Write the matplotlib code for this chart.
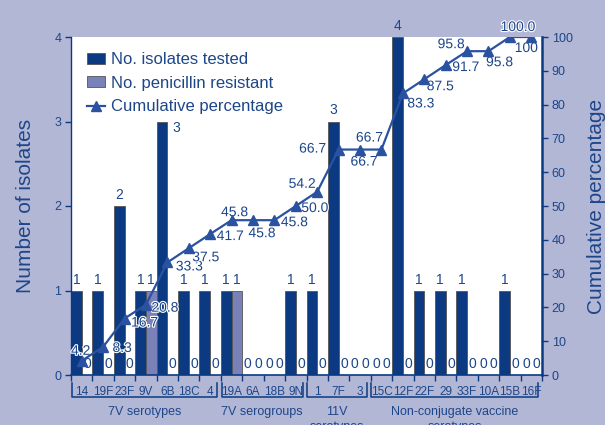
import matplotlib
matplotlib.use("Agg")
import matplotlib.pyplot as plt
from matplotlib.patches import Patch
from matplotlib.lines import Line2D
import matplotlib.transforms as mtransforms
import matplotlib.patheffects as pe

# ---------------- data ----------------
categories = ["14", "19F", "23F", "9V", "6B", "18C", "4", "19A", "6A", "18B", "9N",
              "1", "7F", "3", "15C", "12F", "22F", "29", "33F", "10A", "15B", "16F"]
tested = [1, 1, 2, 1, 3, 1, 1, 1, 0, 0, 1, 1, 3, 0, 0, 4, 1, 1, 1, 0, 1, 0]
resistant = [0, 0, 0, 1, 0, 0, 0, 1, 0, 0, 0, 0, 0, 0, 0, 0, 0, 0, 0, 0, 0, 0]
cumulative = [4.2, 8.3, 16.7, 20.8, 33.3, 37.5, 41.7, 45.8, 45.8, 45.8, 50.0,
              54.2, 66.7, 66.7, 66.7, 83.3, 87.5, 91.7, 95.8, 95.8, 100.0, 100]
cum_labels = ["4.2", "8.3", "16.7", "20.8", "33.3", "37.5", "41.7", "45.8", "45.8",
              "45.8", "50.0", "54.2", "66.7", "66.7", "66.7", "83.3", "87.5", "91.7",
              "95.8", "95.8", "100.0", "100"]
group_names = ["7V serotypes", "7V serogroups", "11V\nserotypes",
               "Non-conjugate vaccine\nserotypes"]
group_ranges = [(0, 6), (7, 10), (11, 13), (14, 21)]

# ---------------- styles ----------------
BG = "#b3b7d6"
NAVY = "#0b3a82"
LIGHT = "#7a81b9"
TXT = "#1d4689"
LINEC = "#2a52a0"

# label offsets (pixels) for cumulative labels
cum_off = [(-1, 10), (19, -1), (20, -4), (19, -3), (22, -4), (17, -9), (20, -2),
           (3, 8), (9, -13), (20, -2), (19, -2), (-15, 8), (-26, 1), (4, -12),
           (-12, 12), (18, -10), (16, -7), (20, -2), (-16, 7), (11, -11), (8, 10),
           (-5, -11)]

plt.rcParams['font.family'] = ['Liberation Sans', 'DejaVu Sans']

fig = plt.figure(figsize=(6.05, 4.25), dpi=100)
fig.patch.set_facecolor(BG)
ax = fig.add_axes([71 / 605, 50 / 425, 471 / 605, 338 / 425])
ax.set_facecolor("white")

n = len(categories)
x = list(range(n))
w = 0.5
ax.bar([i - 0.25 for i in x], tested, width=w, color=NAVY, edgecolor="#555555",
       linewidth=0.6, zorder=2)
ax.bar([i + 0.25 for i in x], resistant, width=w, color=LIGHT, edgecolor="#555555",
       linewidth=0.6, zorder=2)

# count labels
for i in x:
    if categories[i] == "6B":
        ax.annotate(str(tested[i]), (i - 0.25, tested[i]), xytext=(14, -6),
                    textcoords="offset pixels", ha="center", va="center",
                    fontsize=10, color=TXT, annotation_clip=False)
    else:
        ax.annotate(str(tested[i]), (i - 0.25, tested[i]), xytext=(0, 4),
                    textcoords="offset pixels", ha="center", va="bottom",
                    fontsize=10, color=TXT, annotation_clip=False)
    ax.annotate(str(resistant[i]), (i + 0.25, resistant[i]), xytext=(0, 4),
                textcoords="offset pixels", ha="center", va="bottom",
                fontsize=10, color=TXT, annotation_clip=False)

ax.set_xlim(-0.5, n - 0.5)
ax.set_ylim(0, 4)
ax.set_yticks([0, 1, 2, 3, 4])
ax.set_xticks([i - 0.5 for i in range(n + 1)])
ax.set_xticklabels([])
ax.tick_params(axis="x", direction="out", length=4, width=1, color=NAVY)
ax.tick_params(axis="y", direction="out", length=4, width=1, color=NAVY,
               labelsize=9, labelcolor=TXT, pad=3)
ax.set_ylabel("Number of isolates", fontsize=15, color=TXT, labelpad=14)
for s in ["top", "right"]:
    ax.spines[s].set_visible(False)
ax.spines["left"].set_color(NAVY)
ax.spines["left"].set_linewidth(1)
ax.spines["bottom"].set_color(NAVY)
ax.spines["bottom"].set_linewidth(1.2)

ax2 = ax.twinx()
ax2.set_ylim(0, 100)
ax2.set_yticks(range(0, 101, 10))
ax2.plot(x, cumulative, color=LINEC, linewidth=1.6, marker="^", markersize=7,
         zorder=5)
halo = [pe.withStroke(linewidth=1.6, foreground="white")]
for i in x:
    ax2.annotate(cum_labels[i], (x[i], cumulative[i]), xytext=cum_off[i],
                 textcoords="offset pixels", ha="center", va="center",
                 fontsize=10, color=TXT, annotation_clip=False, path_effects=halo)
for s in ["top", "left", "bottom"]:
    ax2.spines[s].set_visible(False)
ax2.spines["right"].set_color(NAVY)
ax2.spines["right"].set_linewidth(1.8)
ax2.tick_params(axis="y", direction="out", length=4, width=1, color=NAVY,
                labelsize=9, labelcolor=TXT, pad=3)
ax2.set_ylabel("Cumulative percentage", fontsize=15, color=TXT, labelpad=10)

# category labels and group brackets
trans = mtransforms.blended_transform_factory(ax.transData, ax.transAxes)
for i in x:
    ax.text(i, -0.050, categories[i], transform=trans, ha="center", va="center",
            fontsize=8.5, color=TXT, clip_on=False)
for (s, e), name in zip(group_ranges, group_names):
    left = s - 0.5 + 0.03
    right = e + 0.5 - 0.17
    ax.plot([left, left, right, right], [-0.024, -0.065, -0.065, -0.024],
            transform=trans, color=NAVY, linewidth=1.1, clip_on=False)
    ax.text((left + right) / 2, -0.093, name, transform=trans, ha="center",
            va="top", fontsize=9, color=TXT, clip_on=False, linespacing=1.25)

# legend
handles = [Patch(facecolor=NAVY, edgecolor="#555555", linewidth=0.6),
           Patch(facecolor=LIGHT, edgecolor="#555555", linewidth=0.6),
           Line2D([0], [0], color=LINEC, linewidth=1.6, marker="^", markersize=7)]
labels = ["No. isolates tested", "No. penicillin resistant", "Cumulative percentage"]
leg = ax2.legend(handles, labels, loc="upper left", bbox_to_anchor=(0.012, 0.985),
                 frameon=False, fontsize=12, handlelength=1.1, handleheight=0.65,
                 handletextpad=0.35, labelspacing=0.52, borderaxespad=0.2)
for t in leg.get_texts():
    t.set_color(TXT)

fig.savefig("out.png", dpi=100, facecolor=BG)
